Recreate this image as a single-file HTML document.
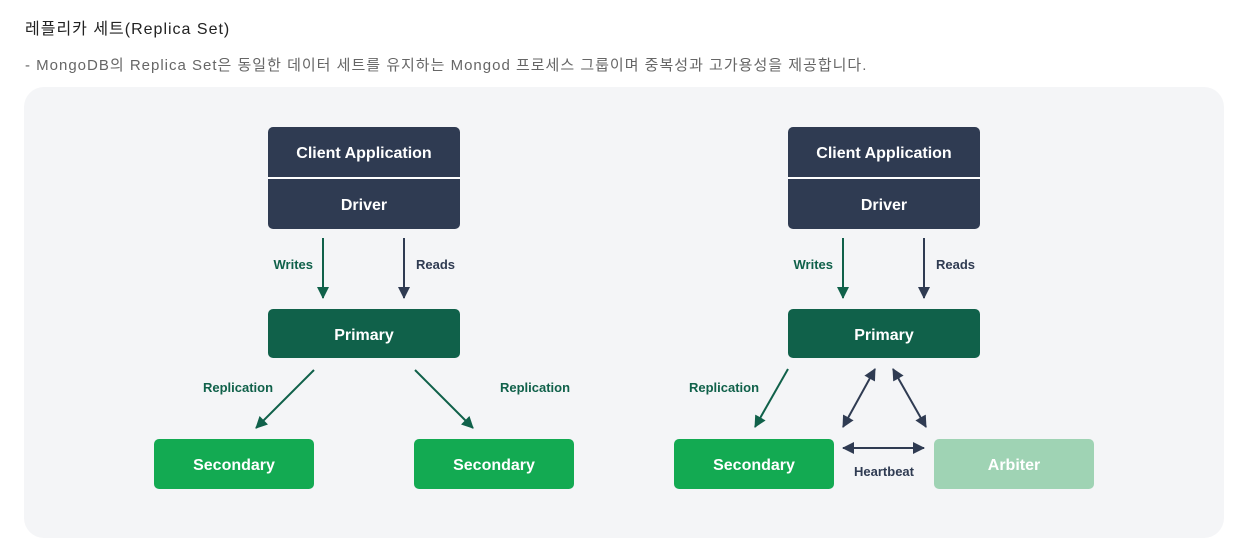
<!DOCTYPE html>
<html><head><meta charset="utf-8"><style>
body{margin:0;width:1243px;height:556px;background:#fff;font-family:"Liberation Sans","Noto Sans CJK KR",sans-serif;overflow:hidden;position:relative}
.t{position:absolute;left:25px;top:15px;font-size:16px;color:#222;letter-spacing:1px}
.s{position:absolute;left:25px;top:54px;font-size:15px;color:#666;letter-spacing:1px;white-space:nowrap}
svg{position:absolute;left:0;top:0}
</style></head><body>
<div class="t">레플리카 세트(Replica Set)</div>
<div class="s">- MongoDB의 Replica Set은 동일한 데이터 세트를 유지하는 Mongod 프로세스 그룹이며 중복성과 고가용성을 제공합니다.</div>
<svg width="1243" height="556" font-family="Liberation Sans, sans-serif" font-weight="bold">
<defs>
<marker id="g" markerWidth="12" markerHeight="12" refX="11" refY="6" orient="auto" markerUnits="userSpaceOnUse" viewBox="0 0 12 12"><path d="M0,0L12,6L0,12z" fill="#10614a"/></marker>
<marker id="d" markerWidth="12" markerHeight="12" refX="11" refY="6" orient="auto-start-reverse" markerUnits="userSpaceOnUse" viewBox="0 0 12 12"><path d="M0,0L12,6L0,12z" fill="#2f3b52"/></marker>
</defs>
<rect x="24" y="87" width="1200" height="451" rx="20" fill="#f4f5f7"/>
<g id="L">
<rect x="268" y="127" width="192" height="102" rx="5" fill="#2f3b52"/>
<line x1="268" y1="178" x2="460" y2="178" stroke="#fff" stroke-width="2"/>
<text x="364" y="158" fill="#fff" font-size="16" text-anchor="middle">Client Application</text>
<text x="364" y="210" fill="#fff" font-size="16" text-anchor="middle">Driver</text>
<line x1="323" y1="238" x2="323" y2="298" stroke="#10614a" stroke-width="2" marker-end="url(#g)"/>
<line x1="404" y1="238" x2="404" y2="298" stroke="#2f3b52" stroke-width="2" marker-end="url(#d)"/>
<text x="313" y="269" fill="#10614a" font-size="13" text-anchor="end">Writes</text>
<text x="416" y="269" fill="#2f3b52" font-size="13">Reads</text>
<rect x="268" y="309" width="192" height="49" rx="5" fill="#10614a"/>
<text x="364" y="340" fill="#fff" font-size="16" text-anchor="middle">Primary</text>
</g>
<use href="#L" x="520"/>
<line x1="314" y1="370" x2="256" y2="428" stroke="#10614a" stroke-width="2" marker-end="url(#g)"/>
<line x1="415" y1="370" x2="473" y2="428" stroke="#10614a" stroke-width="2" marker-end="url(#g)"/>
<text x="238" y="392" fill="#10614a" font-size="13" text-anchor="middle">Replication</text>
<text x="535" y="392" fill="#10614a" font-size="13" text-anchor="middle">Replication</text>
<rect x="154" y="439" width="160" height="50" rx="5" fill="#13aa52"/>
<text x="234" y="470" fill="#fff" font-size="16" text-anchor="middle">Secondary</text>
<rect x="414" y="439" width="160" height="50" rx="5" fill="#13aa52"/>
<text x="494" y="470" fill="#fff" font-size="16" text-anchor="middle">Secondary</text>
<line x1="788" y1="369" x2="755" y2="427" stroke="#10614a" stroke-width="2" marker-end="url(#g)"/>
<text x="724" y="392" fill="#10614a" font-size="13" text-anchor="middle">Replication</text>
<line x1="875" y1="369" x2="843" y2="427" stroke="#2f3b52" stroke-width="2" marker-start="url(#d)" marker-end="url(#d)"/>
<line x1="893" y1="369" x2="926" y2="427" stroke="#2f3b52" stroke-width="2" marker-start="url(#d)" marker-end="url(#d)"/>
<line x1="843" y1="448" x2="924" y2="448" stroke="#2f3b52" stroke-width="2" marker-start="url(#d)" marker-end="url(#d)"/>
<text x="884" y="476" fill="#2f3b52" font-size="13" text-anchor="middle">Heartbeat</text>
<rect x="674" y="439" width="160" height="50" rx="5" fill="#13aa52"/>
<text x="754" y="470" fill="#fff" font-size="16" text-anchor="middle">Secondary</text>
<rect x="934" y="439" width="160" height="50" rx="5" fill="#9fd3b4"/>
<text x="1014" y="470" fill="#fff" font-size="16" text-anchor="middle">Arbiter</text>
</svg>
</body></html>
